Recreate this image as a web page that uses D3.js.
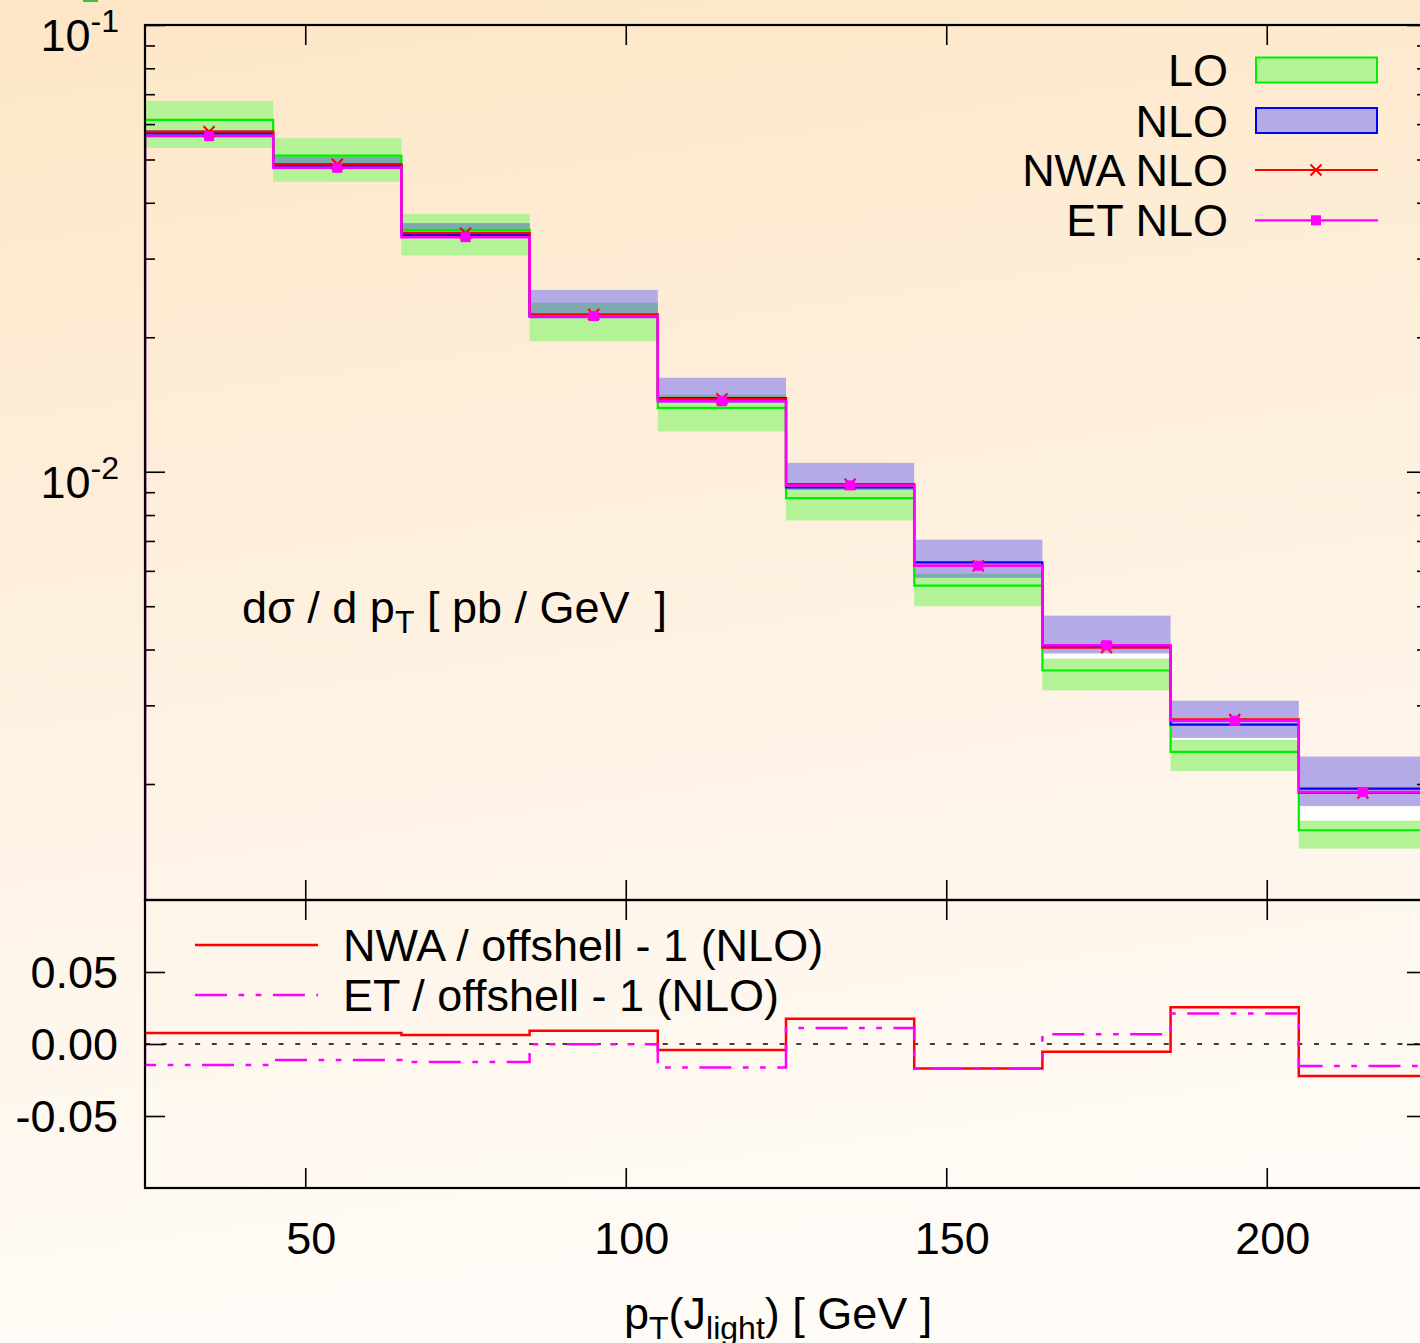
<!DOCTYPE html>
<html><head><meta charset="utf-8">
<script src="https://cdn.jsdelivr.net/npm/d3@7"></script>
<style>
html,body{margin:0;padding:0;overflow:hidden;background:#fff;}
svg{display:block;font-family:"Liberation Sans",Arial,sans-serif;}
text{white-space:pre;}
</style></head><body>
<svg id="chart" width="1420" height="1343"></svg>
<script>
// ---------------- data ----------------
const binEdges   = [25,45,65,85,105,125,145,165,185,205,225];
const loCentral  = [0.0613,0.0510,0.0348,0.0223,0.0139,0.00873,0.00556,0.00359,0.00236,0.001576];
const loLow      = [0.0531,0.0446,0.0305,0.0196,0.01231,0.00778,0.00500,0.00324,0.00214,0.001434];
const loHigh     = [0.0676,0.0558,0.0378,0.0239,0.01487,0.00921,0.00591,0.00382,0.00251,0.001657];
const nloCentral = [0.0572,0.04844,0.0339,0.02228,0.01462,0.00922,0.006267,0.004066,0.002716,0.001953];
const nloLow     = [0.0562,0.0476,0.03338,0.02205,0.01427,0.00911,0.005793,0.003916,0.002536,0.001783];
const nloHigh    = [0.0582,0.0507,0.0360,0.02553,0.01623,0.01047,0.007045,0.004762,0.003073,0.002304];
const nwaNlo     = [0.0577,0.0488,0.0342,0.0225,0.01456,0.00938,0.00616,0.00404,0.00279,0.00191];
const etNlo      = [0.0564,0.0479,0.0335,0.0223,0.01438,0.00932,0.00616,0.00409,0.00277,0.00192];
const ratioNwa   = [0.0076,0.0076,0.0062,0.0092,-0.0042,0.0175,-0.0171,-0.0053,0.0256,-0.0222];
const ratioEt    = [-0.0145,-0.0111,-0.0125,-0.0002,-0.0164,0.0111,-0.0171,0.0067,0.0212,-0.0152];
const xTicks     = [50,100,150,200];
const xTickLabels= ["50","100","150","200"];
const yTopMajor  = [0.1,0.01];
const yTopLabels = ["-1","-2"];
const yBotTicks  = [0.05,0.0,-0.05];
const yBotLabels = ["0.05","0.00","-0.05"];
const legendTop  = ["LO","NLO","NWA NLO","ET NLO"];
const legendBot  = ["NWA / offshell - 1 (NLO)","ET / offshell - 1 (NLO)"];

// ---------------- setup ----------------
const svg = d3.select("#chart");
const defs = svg.append("defs");
const grad = defs.append("linearGradient").attr("id","bg").attr("x1",0).attr("y1",0).attr("x2",0.15).attr("y2",1);
grad.append("stop").attr("offset","0%").attr("stop-color","#fde6c6");
grad.append("stop").attr("offset","55%").attr("stop-color","#fef2e3");
grad.append("stop").attr("offset","100%").attr("stop-color","#fffbf6");
svg.append("rect").attr("width",1420).attr("height",1343).attr("fill","url(#bg)");
svg.append("rect").attr("x",83).attr("y",0).attr("width",15).attr("height",2).attr("fill","#3fbf3f");

const L = 145, R = 1427, T = 25, M = 900, B = 1188;
const x = d3.scaleLinear().domain([25,225]).range([L,R]);
const yT = d3.scaleLog().domain([0.0011,0.1]).range([M,T]);
const yB = d3.scaleLinear().domain([-0.1,0.1]).range([B,M]);

defs.append("clipPath").attr("id","clipTop").append("rect").attr("x",L).attr("y",T).attr("width",R-L).attr("height",M-T);
defs.append("clipPath").attr("id","clipBot").append("rect").attr("x",L).attr("y",M).attr("width",R-L).attr("height",B-M);

const bins = d3.range(loCentral.length).map(i => ({
  x0: binEdges[i], x1: binEdges[i+1], c: (binEdges[i]+binEdges[i+1])/2,
  lo: loCentral[i], loL: loLow[i], loH: loHigh[i],
  nlo: nloCentral[i], nloL: nloLow[i], nloH: nloHigh[i],
  nwa: nwaNlo[i], et: etNlo[i], rN: ratioNwa[i], rE: ratioEt[i]
}));

// ---------------- top panel ----------------
const gTop = svg.append("g").attr("clip-path","url(#clipTop)");
const bandRect = (sel, lowF, highF, color) => sel.selectAll(null).data(bins.filter(d => highF(d) > lowF(d))).join("rect")
  .attr("x", d => x(d.x0)).attr("width", d => x(d.x1)-x(d.x0))
  .attr("y", d => yT(highF(d))).attr("height", d => yT(lowF(d)) - yT(highF(d)))
  .attr("fill", color);
bandRect(gTop, d => d.loL, d => d.loH, "#b3f297");
bandRect(gTop, d => d.nloL, d => d.nloH, "#b3aae6");
bandRect(gTop, d => Math.max(d.loL,d.nloL), d => Math.min(d.loH,d.nloH), "#7fa9b0");
bandRect(gTop, d => d.loH, d => d.nloL, "#ffffff");

function stepPoints(vals){
  const pts = [{x: binEdges[0], base: true}];
  vals.forEach((v,i) => pts.push({x: binEdges[i], v}));
  pts.push({x: binEdges[binEdges.length-1], v: vals[vals.length-1]});
  pts.push({x: binEdges[binEdges.length-1], base: true});
  return pts;
}
const lineTop = d3.line().curve(d3.curveStepAfter).x(d => x(d.x)).y(d => d.base ? M + 5 : yT(d.v));
const lineBot = d3.line().curve(d3.curveStepAfter).x(d => x(d.x)).y(d => d.base ? yB(0) : yB(d.v));

gTop.append("path").attr("d", lineTop(stepPoints(loCentral))).attr("fill","none").attr("stroke","#00ee00").attr("stroke-width",2.2);
gTop.append("path").attr("d", lineTop(stepPoints(nloCentral))).attr("fill","none").attr("stroke","#0000ff").attr("stroke-width",2.2);
gTop.append("path").attr("d", lineTop(stepPoints(nwaNlo))).attr("fill","none").attr("stroke","#ff0000").attr("stroke-width",2.2);
gTop.append("path").attr("d", lineTop(stepPoints(etNlo))).attr("fill","none").attr("stroke","#ff00ff").attr("stroke-width",2.5);

const crossPath = (cx, cy, s) => `M${cx-s},${cy-s}L${cx+s},${cy+s}M${cx-s},${cy+s}L${cx+s},${cy-s}`;
gTop.selectAll(null).data(bins).join("path")
  .attr("d", d => crossPath(x(d.c), yT(d.nwa), 5.5)).attr("stroke","#ff0000").attr("stroke-width",2).attr("fill","none");
gTop.selectAll(null).data(bins).join("rect")
  .attr("x", d => x(d.c)-5).attr("y", d => yT(d.et)-5).attr("width",10).attr("height",10).attr("fill","#ff00ff");

// ---------------- bottom panel ----------------
const gBot = svg.append("g").attr("clip-path","url(#clipBot)");
gBot.append("line").attr("x1",L).attr("x2",R).attr("y1",yB(0)).attr("y2",yB(0))
  .attr("stroke","#000").attr("stroke-width",1.5).attr("stroke-dasharray","5,11.7");
gBot.append("path").attr("d", lineBot(stepPoints(ratioNwa))).attr("fill","none").attr("stroke","#ff0000").attr("stroke-width",2.5);
gBot.append("path").attr("d", lineBot(stepPoints(ratioEt))).attr("fill","none").attr("stroke","#ff00ff").attr("stroke-width",2.5)
  .attr("stroke-dasharray","32,11.5,5.7,11.5,5.7,11.5");

// ---------------- axes / ticks ----------------
const tickStyle = g => { g.select(".domain").remove(); g.selectAll("line").attr("stroke","#000").attr("stroke-width",1.6); g.selectAll("text").remove(); };
const minorTop = [];
[0.001,0.01].forEach(dec => { for (let k=2;k<=9;k++){ const v = dec*k; if (v>=0.0011 && v<0.1) minorTop.push(v);} });

// top panel
svg.append("g").attr("transform",`translate(${L},0)`).call(d3.axisRight(yT).tickValues(yTopMajor).tickSize(20)).call(tickStyle);
svg.append("g").attr("transform",`translate(${L},0)`).call(d3.axisRight(yT).tickValues(minorTop).tickSize(10)).call(tickStyle);
svg.append("g").attr("transform",`translate(${R},0)`).call(d3.axisLeft(yT).tickValues(yTopMajor).tickSize(20)).call(tickStyle);
svg.append("g").attr("transform",`translate(${R},0)`).call(d3.axisLeft(yT).tickValues(minorTop).tickSize(10)).call(tickStyle);
svg.append("g").attr("transform",`translate(0,${T})`).call(d3.axisBottom(x).tickValues(xTicks).tickSize(20)).call(tickStyle);
svg.append("g").attr("transform",`translate(0,${M})`).call(d3.axisTop(x).tickValues(xTicks).tickSize(20)).call(tickStyle);
// bottom panel
svg.append("g").attr("transform",`translate(0,${M})`).call(d3.axisBottom(x).tickValues(xTicks).tickSize(20)).call(tickStyle);
svg.append("g").attr("transform",`translate(0,${B})`).call(d3.axisTop(x).tickValues(xTicks).tickSize(20)).call(tickStyle);
svg.append("g").attr("transform",`translate(${L},0)`).call(d3.axisRight(yB).tickValues(yBotTicks).tickSize(20)).call(tickStyle);
svg.append("g").attr("transform",`translate(${R},0)`).call(d3.axisLeft(yB).tickValues(yBotTicks).tickSize(20)).call(tickStyle);

// frames
svg.append("rect").attr("x",L).attr("y",T).attr("width",R-L).attr("height",M-T).attr("fill","none").attr("stroke","#000").attr("stroke-width",2.2);
svg.append("rect").attr("x",L).attr("y",M).attr("width",R-L).attr("height",B-M).attr("fill","none").attr("stroke","#000").attr("stroke-width",2.2);

// tick labels
const FS = 45, SFS = 32;
yTopMajor.forEach((v,i) => {
  const t = svg.append("text").attr("x",119).attr("y",yT(v)+26).attr("text-anchor","end").attr("font-size",FS).attr("fill","#000");
  t.append("tspan").text("10");
  t.append("tspan").attr("dy",-19).attr("font-size",SFS).text(yTopLabels[i]);
});
yBotTicks.forEach((v,i) => {
  svg.append("text").attr("x",118).attr("y",yB(v)+16).attr("text-anchor","end").attr("font-size",FS).text(yBotLabels[i]);
});
xTicks.forEach((v,i) => {
  svg.append("text").attr("x",x(v)+6).attr("y",1254).attr("text-anchor","middle").attr("font-size",FS).text(xTickLabels[i]);
});

// axis titles
const yl = svg.append("text").attr("x",242).attr("y",623).attr("font-size",FS);
yl.append("tspan").text("dσ / d p");
yl.append("tspan").attr("font-size",SFS).attr("dy",10).text("T");
yl.append("tspan").attr("dy",-10).text(" [ pb / GeV  ]");

const xl = svg.append("text").attr("x",624).attr("y",1329).attr("font-size",FS);
xl.append("tspan").text("p");
xl.append("tspan").attr("font-size",SFS).attr("dy",10).text("T");
xl.append("tspan").attr("dy",-10).text("(J");
xl.append("tspan").attr("font-size",SFS).attr("dy",10).text("light");
xl.append("tspan").attr("dy",-10).text(") [ GeV ]");

// ---------------- legends ----------------
const legY = [70,120.5,170,220.3];
legendTop.forEach((s,i) => {
  svg.append("text").attr("x",1228).attr("y",legY[i]+16).attr("text-anchor","end").attr("font-size",FS).text(s);
});
svg.append("rect").attr("x",1256).attr("y",legY[0]-12.5).attr("width",121).attr("height",25).attr("fill","#b3f297").attr("stroke","#00ee00").attr("stroke-width",2);
svg.append("rect").attr("x",1256).attr("y",legY[1]-12.5).attr("width",121).attr("height",25).attr("fill","#b3aae6").attr("stroke","#0000ff").attr("stroke-width",2);
svg.append("line").attr("x1",1255).attr("x2",1378).attr("y1",legY[2]).attr("y2",legY[2]).attr("stroke","#ff0000").attr("stroke-width",2.2);
svg.append("path").attr("d",crossPath(1316,legY[2],5.5)).attr("stroke","#ff0000").attr("stroke-width",2);
svg.append("line").attr("x1",1255).attr("x2",1378).attr("y1",legY[3]).attr("y2",legY[3]).attr("stroke","#ff00ff").attr("stroke-width",2.2);
svg.append("rect").attr("x",1311).attr("y",legY[3]-5).attr("width",10).attr("height",10).attr("fill","#ff00ff");

const legBY = [945,995];
svg.append("line").attr("x1",195).attr("x2",318).attr("y1",legBY[0]).attr("y2",legBY[0]).attr("stroke","#ff0000").attr("stroke-width",2.5);
svg.append("line").attr("x1",195).attr("x2",318).attr("y1",legBY[1]).attr("y2",legBY[1]).attr("stroke","#ff00ff").attr("stroke-width",2.5)
  .attr("stroke-dasharray","32,11.5,5.7,11.5,5.7,11.5");
legendBot.forEach((s,i) => {
  svg.append("text").attr("x",343).attr("y",legBY[i]+16).attr("font-size",FS).text(s);
});
</script>
</body></html>
